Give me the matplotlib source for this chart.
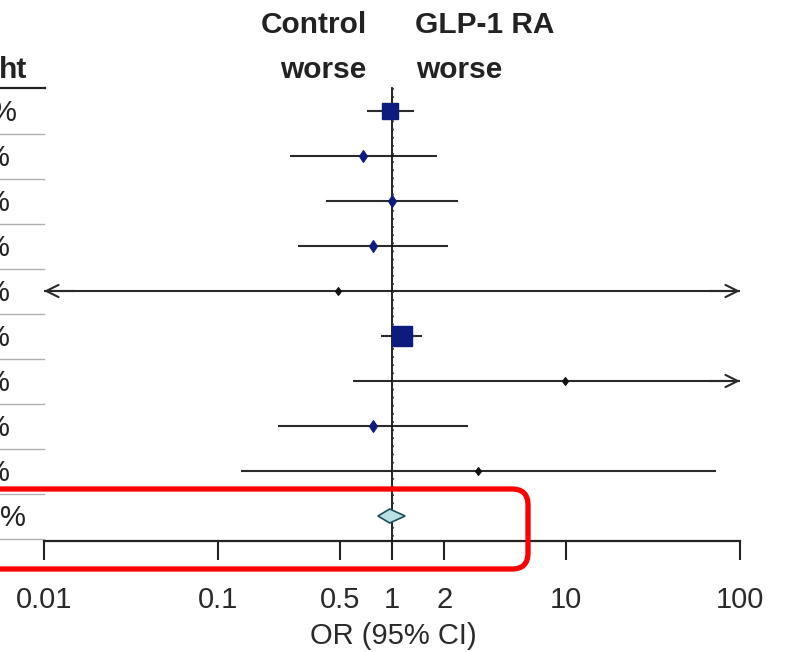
import matplotlib
matplotlib.use("Agg")
import matplotlib.pyplot as plt
import matplotlib.transforms as mtransforms
from matplotlib.patches import FancyBboxPatch, Polygon
import numpy as np

plt.rcParams['font.family'] = ['Liberation Sans', 'DejaVu Sans']

# ---------------- data ----------------
odds_ratio = [0.97, 0.68, 1.00, 0.78, 0.49, 1.14, 9.86, 0.78, 3.13]
ci_low     = [0.72, 0.26, 0.42, 0.29, 0.005, 0.87, 0.60, 0.22, 0.136]
ci_high    = [1.33, 1.81, 2.40, 2.09, 200.0, 1.48, 200.0, 2.74, 72.8]
weights    = [35.0, 4.0, 4.0, 4.0, 1.0, 50.0, 1.0, 4.0, 1.0]
pooled_or  = 0.97
pooled_low = 0.83
pooled_high = 1.19
weight_header = "ht"
weight_labels = ["%"] * 9 + ["%"]
tick_values = [0.01, 0.1, 0.5, 1, 2, 10, 100]
tick_labels = ["0.01", "0.1", "0.5", "1", "2", "10", "100"]
x_label = "OR (95% CI)"
left_header = ["Control", "worse"]
right_header = ["GLP-1 RA", "worse"]

# ---------------- figure ----------------
W, H = 787, 652
fig = plt.figure(figsize=(W / 100, H / 100), dpi=100)

axis_px = 541
ax = fig.add_axes([0, 1 - axis_px / H, 1, axis_px / H])
ax.set_xscale('log')
px_per_dec = 174.0
x1_px = 392.0
ax.set_xlim(10 ** ((0 - x1_px) / px_per_dec), 10 ** ((W - x1_px) / px_per_dec))
row0_px, row_step = 111.0, 45.0
ax.set_ylim(1 + (axis_px - row0_px) / row_step, 1 - row0_px / row_step)

for s in ['top', 'right', 'left']:
    ax.spines[s].set_visible(False)
ax.spines['bottom'].set_bounds(0.01, 100)
ax.spines['bottom'].set_linewidth(1.6)
ax.spines['bottom'].set_color('#222222')
ax.set_yticks([])
ax.set_xticks(tick_values)
ax.set_xticklabels(tick_labels)
ax.minorticks_off()
ax.tick_params(axis='x', direction='out', length=13.5, width=1.5, color='#222222',
               labelsize=21, labelcolor='#2a2a2a', pad=19)
ax.set_xlabel(x_label, fontsize=21, color='#2a2a2a', labelpad=6)

lo_lim, hi_lim = 0.01, 100
line_col = '#2a2a2a'
mark_col = '#0d1b7e'

# reference line at OR = 1
ytop = 1 - (row0_px - 88) / row_step
ybot = ax.get_ylim()[0]
ax.plot([1, 1], [ytop, ybot], color='#111111', lw=1.3, zorder=3)
ax.plot([1.012, 1.012], [ytop, ybot], color='#333333', lw=1.3,
        linestyle=(0, (1, 3.5)), zorder=3)

rows = np.arange(1, len(odds_ratio) + 1)
for r, o, lo, hi, w in zip(rows, odds_ratio, ci_low, ci_high, weights):
    a = max(lo, lo_lim)
    b = min(hi, hi_lim)
    ax.plot([a, b], [r, r], color=line_col, lw=1.5, zorder=2, solid_capstyle='butt')
    if lo < lo_lim:
        ax.annotate('', xy=(lo_lim, r), xytext=(lo_lim * 1.5, r),
                    arrowprops=dict(arrowstyle='->', color=line_col, lw=1.5,
                                    mutation_scale=22, shrinkA=0, shrinkB=0))
    if hi > hi_lim:
        ax.annotate('', xy=(hi_lim, r), xytext=(hi_lim / 1.5, r),
                    arrowprops=dict(arrowstyle='->', color=line_col, lw=1.5,
                                    mutation_scale=22, shrinkA=0, shrinkB=0))
    if w >= 10:
        side_px = 2.7 * np.sqrt(w)
        ax.plot([o], [r], marker='s', markersize=side_px * 0.72, color=mark_col,
                markeredgecolor=mark_col, zorder=4)
    else:
        ax.plot([o], [r], marker='d', markersize=2.6 + 1.8 * np.sqrt(w),
                markeredgewidth=0.8, color=mark_col if w > 2 else '#111111',
                zorder=4)

# pooled diamond
ry = len(odds_ratio) + 1
dh = 7 / row_step
diamond = Polygon([[pooled_low, ry], [pooled_or, ry - dh], [pooled_high, ry],
                   [pooled_or, ry + dh]], closed=True, facecolor='#b9e0e3',
                  edgecolor='#1f4f5a', lw=1.2, zorder=4)
ax.add_patch(diamond)

# ---------------- headers ----------------
def fy(px):
    return 1 - px / H

hdr = dict(fontsize=21.5, fontweight='bold', color='#222222', va='baseline')
fig.text(367 / W, fy(33), left_header[0], ha='right', **hdr)
fig.text(366 / W, fy(78), left_header[1], ha='right', **hdr)
fig.text(415 / W, fy(33), right_header[0], ha='left', **hdr)
fig.text(416 / W, fy(78), right_header[1], ha='left', **hdr)

# ---------------- truncated weight column ----------------
trans = mtransforms.blended_transform_factory(fig.transFigure, ax.transData)
fig.text(27 / W, fy(78), weight_header, ha='right', **hdr)
ax.plot([0, 45 / W], [1 - (row0_px - 88) / row_step] * 2, transform=trans,
        color='#222222', lw=1.6, clip_on=False)
label_right = [17] + [10] * 8 + [26]
for i, (lab, rx) in enumerate(zip(weight_labels, label_right)):
    r = i + 1
    ax.text(rx / W, r + 0.05, lab, transform=trans, ha='right', va='center',
            fontsize=21, color='#222222', clip_on=False)
    ax.plot([0, 44 / W], [r + 0.5, r + 0.5], transform=trans, color='#b0b0b0',
            lw=1.0, clip_on=False)

# ---------------- red highlight box ----------------
x0, x1p = -30, 528
y0, y1p = H - 569, H - 489
box = FancyBboxPatch((x0, y0), x1p - x0, y1p - y0,
                     boxstyle='round,pad=0,rounding_size=16',
                     transform=mtransforms.IdentityTransform(),
                     facecolor='none', edgecolor='#ff0000', lw=3.8, zorder=10)
fig.patches.append(box)

fig.savefig('out.png', dpi=100)
